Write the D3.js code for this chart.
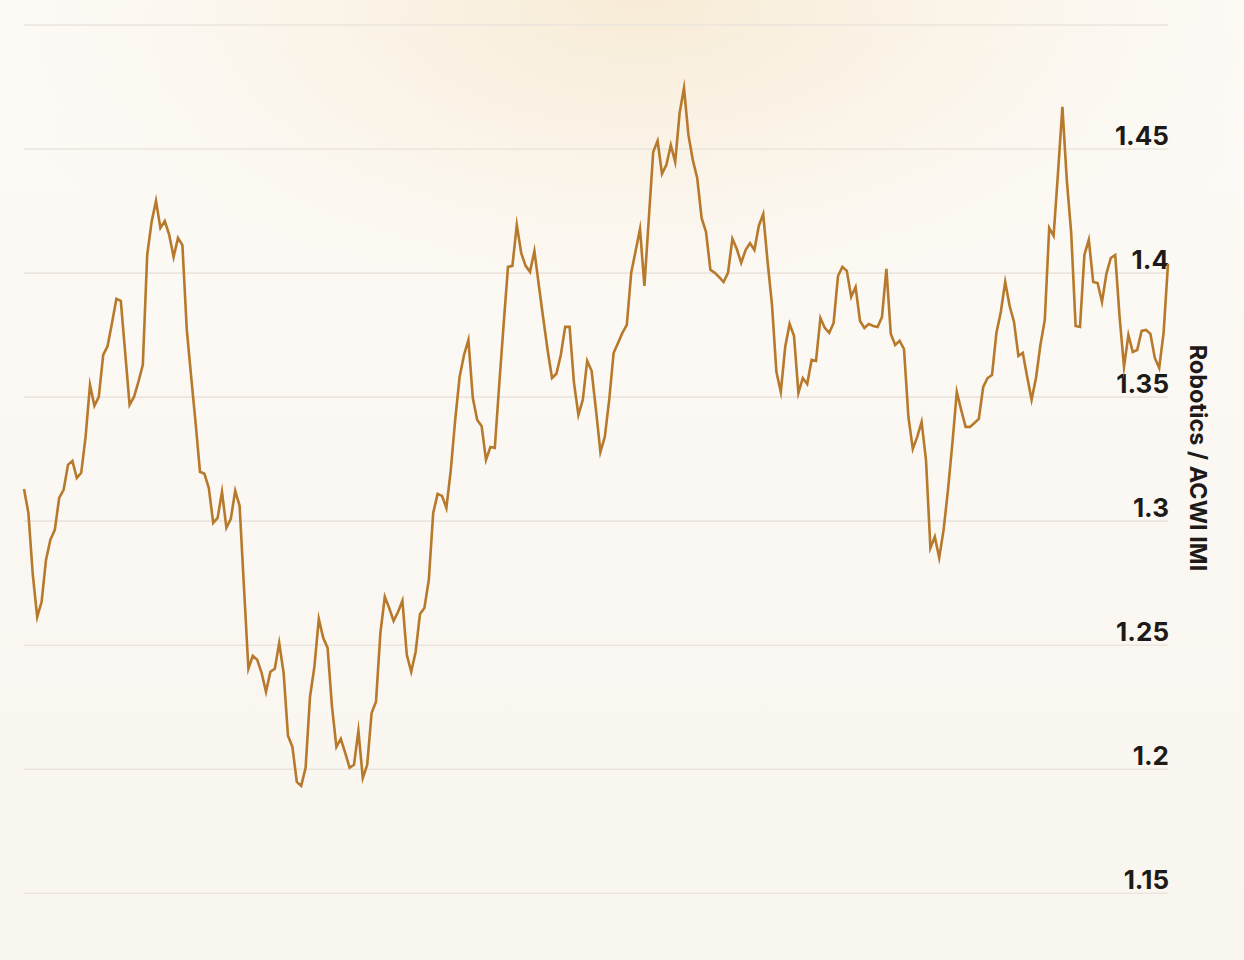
<!DOCTYPE html>
<html>
<head>
<meta charset="utf-8">
<script src="https://cdn.jsdelivr.net/npm/d3@7"></script>
<style>
  html, body { margin: 0; padding: 0; background: #fcfaf6; }
  svg { display: block; }
</style>
</head>
<body>
<div id="chart"></div>
<script>
// ---- Data ----
const seriesName = "Robotics / ACWI IMI";
const ratioValues = [
  1.3128, 1.3031, 1.2782, 1.2612, 1.2673, 1.2842, 1.2923, 1.2963, 1.3092, 1.3124,
  1.3225, 1.3241, 1.3172, 1.3193, 1.3338, 1.3547, 1.3463, 1.3499, 1.3668, 1.3704,
  1.3797, 1.3894, 1.3886, 1.3676, 1.3467, 1.3499, 1.3559, 1.3628, 1.4071, 1.4204,
  1.4289, 1.4180, 1.4208, 1.4152, 1.4063, 1.4140, 1.4111, 1.3769, 1.3579, 1.3394,
  1.3197, 1.3189, 1.3132, 1.2991, 1.3011, 1.3116, 1.2971, 1.3007, 1.3120, 1.3060,
  1.2729, 1.2403, 1.2455, 1.2439, 1.2387, 1.2310, 1.2391, 1.2403, 1.2507, 1.2387,
  1.2133, 1.2088, 1.1947, 1.1931, 1.2004, 1.2290, 1.2411, 1.2604, 1.2528, 1.2487,
  1.2250, 1.2088, 1.2121, 1.2064, 1.2004, 1.2016, 1.2153, 1.1963, 1.2016, 1.2225,
  1.2270, 1.2548, 1.2693, 1.2648, 1.2596, 1.2632, 1.2677, 1.2459, 1.2391, 1.2471,
  1.2624, 1.2648, 1.2761, 1.3031, 1.3108, 1.3100, 1.3051, 1.3205, 1.3406, 1.3579,
  1.3668, 1.3729, 1.3495, 1.3406, 1.3382, 1.3245, 1.3297, 1.3293, 1.3547, 1.3789,
  1.4023, 1.4027, 1.4192, 1.4079, 1.4027, 1.4003, 1.4087, 1.3950, 1.3817, 1.3688,
  1.3575, 1.3592, 1.3668, 1.3781, 1.3781, 1.3555, 1.3426, 1.3487, 1.3644, 1.3604,
  1.3446, 1.3277, 1.3338, 1.3487, 1.3676, 1.3716, 1.3757, 1.3789, 1.3999, 1.4087,
  1.4176, 1.3946, 1.4216, 1.4486, 1.4531, 1.4398, 1.4434, 1.4514, 1.4446, 1.4643,
  1.4744, 1.4555, 1.4454, 1.4381, 1.4220, 1.4164, 1.4011, 1.3999, 1.3982, 1.3962,
  1.3999, 1.4136, 1.4095, 1.4039, 1.4091, 1.4119, 1.4091, 1.4188, 1.4236, 1.4043,
  1.3870, 1.3600, 1.3519, 1.3700, 1.3793, 1.3745, 1.3515, 1.3575, 1.3551, 1.3648,
  1.3644, 1.3817, 1.3777, 1.3757, 1.3797, 1.3986, 1.4023, 1.4007, 1.3902, 1.3942,
  1.3805, 1.3777, 1.3793, 1.3785, 1.3781, 1.3821, 1.4015, 1.3753, 1.3708, 1.3725,
  1.3692, 1.3418, 1.3289, 1.3338, 1.3398, 1.3245, 1.2890, 1.2935, 1.2850, 1.2963,
  1.3124, 1.3313, 1.3519, 1.3446, 1.3378, 1.3378, 1.3394, 1.3410, 1.3539, 1.3575,
  1.3587, 1.3757, 1.3841, 1.3962, 1.3866, 1.3801, 1.3664, 1.3676, 1.3579, 1.3487,
  1.3575, 1.3708, 1.3809, 1.4180, 1.4148, 1.4402, 1.4668, 1.4373, 1.4160, 1.3785,
  1.3781, 1.4071, 1.4132, 1.3962, 1.3958, 1.3882, 1.3995, 1.4059, 1.4071, 1.3821,
  1.3620, 1.3749, 1.3680, 1.3688, 1.3765, 1.3769, 1.3753, 1.3656, 1.3616, 1.3757,
  1.4035
];
const gridValues = [1.15, 1.2, 1.25, 1.3, 1.35, 1.4, 1.45, 1.5];
const tickLabels = ["1.15", "1.2", "1.25", "1.3", "1.35", "1.4", "1.45"];

// ---- Layout ----
const W = 1244, H = 960;
const left = 24, right = 1168;
const yTop = 24.5, yBottom = 892.8;

const svg = d3.select("#chart").append("svg")
  .attr("width", W).attr("height", H);

const defs = svg.append("defs");
const lin = defs.append("linearGradient").attr("id", "bgLin")
  .attr("x1", 0).attr("y1", 0).attr("x2", 0).attr("y2", 1);
lin.append("stop").attr("offset", "0%").attr("stop-color", "#fdfbf7");
lin.append("stop").attr("offset", "100%").attr("stop-color", "#f9f5ef");

const rad = defs.append("radialGradient").attr("id", "bgRad")
  .attr("gradientUnits", "userSpaceOnUse")
  .attr("cx", 640).attr("cy", 0).attr("r", 700)
  .attr("gradientTransform", "translate(640,0) scale(1,0.5) translate(-640,0)");
rad.append("stop").attr("offset", "0%").attr("stop-color", "#f7e9d0").attr("stop-opacity", 0.85);
rad.append("stop").attr("offset", "50%").attr("stop-color", "#f9efdf").attr("stop-opacity", 0.55);
rad.append("stop").attr("offset", "100%").attr("stop-color", "#fbf7f0").attr("stop-opacity", 0);

svg.append("rect").attr("width", W).attr("height", H).attr("fill", "url(#bgLin)");
svg.append("rect").attr("width", W).attr("height", H).attr("fill", "url(#bgRad)");

// ---- Scales ----
const x = d3.scaleLinear()
  .domain([0, ratioValues.length - 1])
  .range([left, right]);
const y = d3.scaleLinear()
  .domain([1.15, 1.5])
  .range([yBottom, yTop]);

// ---- Gridlines ----
const gridAxis = d3.axisRight(y)
  .tickValues(gridValues)
  .tickSize(right - left)
  .tickFormat("");
const g = svg.append("g")
  .attr("transform", `translate(${left},0)`)
  .call(gridAxis);
g.select(".domain").remove();
g.selectAll(".tick line")
  .attr("stroke", "#ebe5dd")
  .attr("stroke-width", 1.6);

// ---- Tick labels (right aligned, sitting above gridline) ----
const labAxis = d3.axisLeft(y)
  .tickValues(tickLabels.map(Number))
  .tickSize(0)
  .tickPadding(0)
  .tickFormat((d, i) => tickLabels[i]);
const la = svg.append("g")
  .attr("transform", `translate(${right + 1},0)`)
  .call(labAxis);
la.select(".domain").remove();
la.selectAll(".tick text")
  .attr("dy", -4)
  .attr("dominant-baseline", "auto")
  .attr("text-anchor", "end")
  .attr("fill", "#1e1a17")
  .style("font-family", "Inter, 'Noto Sans', sans-serif")
  .style("font-weight", 700)
  .style("font-size", "26px");

// ---- Line ----
const line = d3.line()
  .x((d, i) => x(i))
  .y(d => y(d));
svg.append("path")
  .datum(ratioValues)
  .attr("fill", "none")
  .attr("stroke", "#b7792b")
  .attr("stroke-width", 2.6)
  .attr("stroke-linejoin", "miter")
  .attr("stroke-miterlimit", 10)
  .attr("d", line);

// ---- Axis title ----
svg.append("text")
  .attr("transform", `translate(1190,458) rotate(90)`)
  .attr("text-anchor", "middle")
  .attr("fill", "#1e1a17")
  .style("font-family", "Inter, 'Noto Sans', sans-serif")
  .style("font-weight", 700)
  .style("font-size", "23.5px")
  .text(seriesName);
</script>
</body>
</html>
